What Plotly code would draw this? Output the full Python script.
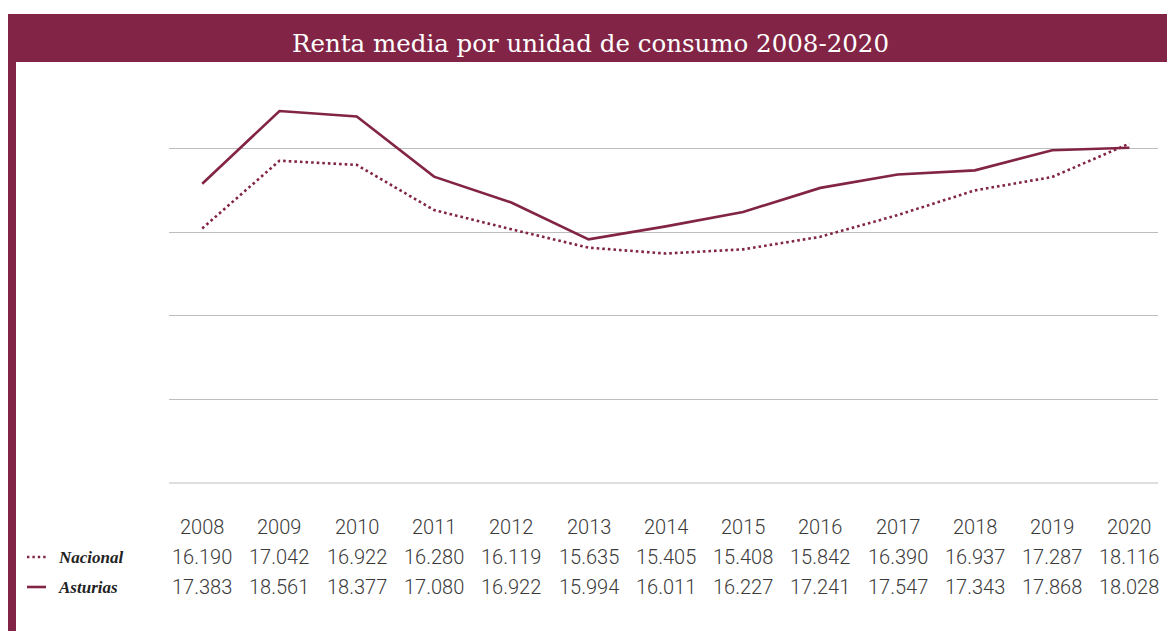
import plotly.graph_objects as go

# ---- data ----
years = [2008, 2009, 2010, 2011, 2012, 2013, 2014, 2015, 2016, 2017, 2018, 2019, 2020]
# values shown in the table
nacional_tabla = ["16.190", "17.042", "16.922", "16.280", "16.119", "15.635", "15.405",
                  "15.408", "15.842", "16.390", "16.937", "17.287", "18.116"]
asturias_tabla = ["17.383", "18.561", "18.377", "17.080", "16.922", "15.994", "16.011",
                  "16.227", "17.241", "17.547", "17.343", "17.868", "18.028"]
# line positions as drawn in the chart
nacional_linea = [16090, 17710, 17610, 16530, 16070, 15630, 15490, 15590, 15890, 16410, 17000, 17320, 18120]
asturias_linea = [17160, 18900, 18770, 17330, 16710, 15830, 16140, 16485, 17060, 17380, 17480, 17960, 18020]
grid_vals = [10000, 12000, 14000, 16000, 18000]
title = "Renta media por unidad de consumo 2008-2020"
series_names = ["Nacional", "Asturias"]

# ---- layout geometry (pixels) ----
WIDTH, HEIGHT = 1167, 631
L, R, T, B = 169, 1158, 65, 483
PW, PH = R - L, B - T


def px(xp):
    return (xp - L) / PW


def py(yp):
    return (B - yp) / PH


MAROON = "#822445"
TEXT = "#3a3a3a"
GRID = "#bdbdbd"

fig = go.Figure()
fig.add_trace(go.Scatter(x=years, y=nacional_linea, mode="lines", name=series_names[0],
                         line=dict(color=MAROON, width=2.6, dash="2.6px,3px"),
                         hoverinfo="skip"))
fig.add_trace(go.Scatter(x=years, y=asturias_linea, mode="lines", name=series_names[1],
                         line=dict(color=MAROON, width=2.6),
                         hoverinfo="skip"))

shapes = [
    # bottom grid line
    dict(type="line", xref="paper", yref="paper", x0=0, x1=1, y0=0, y1=0,
         line=dict(color=GRID, width=1.2), layer="below"),
    # title bar
    dict(type="rect", xref="paper", yref="paper", x0=px(8), x1=px(1167), y0=py(62), y1=py(14),
         fillcolor=MAROON, line=dict(width=0), layer="above"),
    # left bar
    dict(type="rect", xref="paper", yref="paper", x0=px(8), x1=px(16), y0=py(631), y1=py(14),
         fillcolor=MAROON, line=dict(width=0), layer="above"),
    # legend markers
    dict(type="line", xref="paper", yref="paper", x0=px(27), x1=px(48), y0=py(557), y1=py(557),
         line=dict(color=MAROON, width=2.4, dash="2.4px,3px")),
    dict(type="line", xref="paper", yref="paper", x0=px(27), x1=px(46), y0=py(587), y1=py(587),
         line=dict(color=MAROON, width=2.6)),
]

annotations = [
    dict(text=title, xref="paper", yref="paper", x=px(590), y=py(44), showarrow=False,
         xanchor="center", yanchor="middle",
         font=dict(family="DejaVu Serif", size=24.5, color="white")),
]

numfont = dict(family="Roboto", size=20, color=TEXT, weight=300)
for i, yr in enumerate(years):
    annotations.append(dict(text=str(yr), xref="x", yref="paper", x=yr, y=py(527),
                            showarrow=False, xanchor="center", yanchor="middle", font=numfont))
    annotations.append(dict(text=nacional_tabla[i], xref="x", yref="paper", x=yr, y=py(557),
                            showarrow=False, xanchor="center", yanchor="middle", font=numfont))
    annotations.append(dict(text=asturias_tabla[i], xref="x", yref="paper", x=yr, y=py(587),
                            showarrow=False, xanchor="center", yanchor="middle", font=numfont))

labfont = dict(family="Liberation Serif", size=17, color="#222222", weight="bold", style="italic")
annotations.append(dict(text=series_names[0], xref="paper", yref="paper", x=px(56), y=py(557),
                        showarrow=False, xanchor="left", yanchor="middle", font=labfont))
annotations.append(dict(text=series_names[1], xref="paper", yref="paper", x=px(56), y=py(587),
                        showarrow=False, xanchor="left", yanchor="middle", font=labfont))

fig.update_layout(
    width=WIDTH, height=HEIGHT,
    margin=dict(l=L, r=WIDTH - R, t=T, b=HEIGHT - B),
    paper_bgcolor="white", plot_bgcolor="white",
    showlegend=False,
    shapes=shapes, annotations=annotations,
    xaxis=dict(range=[2007.57, 2020.37], visible=False, fixedrange=True),
    yaxis=dict(range=[10000, 20000], tickvals=grid_vals, showticklabels=False,
               showgrid=True, gridcolor=GRID, gridwidth=1.2, zeroline=False,
               showline=False, ticks="", fixedrange=True),
)

fig.write_html("out.html", config={"displayModeBar": False},
               post_script="document.body.style.margin='0';document.body.style.overflow='hidden';")
